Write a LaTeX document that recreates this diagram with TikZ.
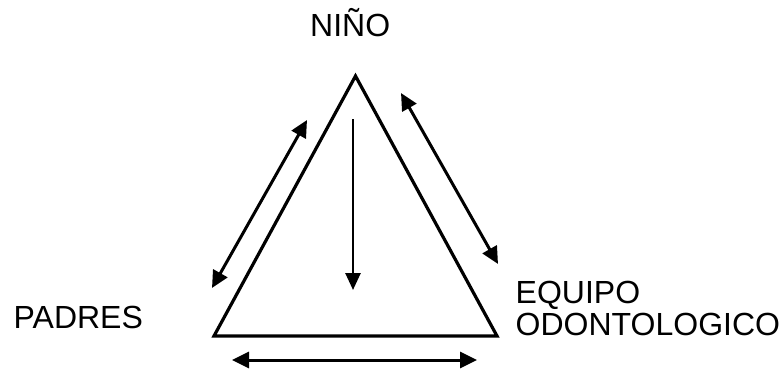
\documentclass[tikz,border=0pt]{standalone}
\usepackage{fontspec}
\setmainfont{Liberation Sans}
\usetikzlibrary{arrows.meta}
\begin{document}
\begin{tikzpicture}[x=1pt,y=-1pt,
  lbl/.style={anchor=base west,inner sep=0pt,font=\fontsize{32}{38}\selectfont},
  side/.style={line width=3.2pt,line join=miter},
  rel/.style={line width=3pt,{Triangle[length=17pt,width=16pt]}-{Triangle[length=17pt,width=16pt]}},
  one/.style={line width=2.6pt,-{Triangle[length=17pt,width=15pt]}}]
\useasboundingbox (0,0) rectangle (784,369);
\node[lbl] (nino) at (310,37) {NIÑO};
\node[lbl] (padres) at (13.5,328) {PADRES};
\node[lbl] (equipo) at (515.5,303) {EQUIPO};
\node[lbl] (odonto) at (515.5,335) {ODONTOLOGICO};
\coordinate (A) at (355.5,76);
\coordinate (B) at (214,336);
\coordinate (C) at (497,336);
\draw[side] (B) -- (A) -- (C) -- cycle;
\coordinate (l1) at (212,288);
\coordinate (l2) at (307,120);
\coordinate (r1) at (401,93);
\coordinate (r2) at (498,264);
\coordinate (d1) at (353,119);
\coordinate (d2) at (353,290);
\coordinate (b1) at (232,360);
\coordinate (b2) at (477,360);
\draw[rel] (l1) -- (l2);
\draw[rel] (r1) -- (r2);
\draw[one] (d1) -- (d2);
\draw[rel] (b1) -- (b2);
\end{tikzpicture}
\end{document}
